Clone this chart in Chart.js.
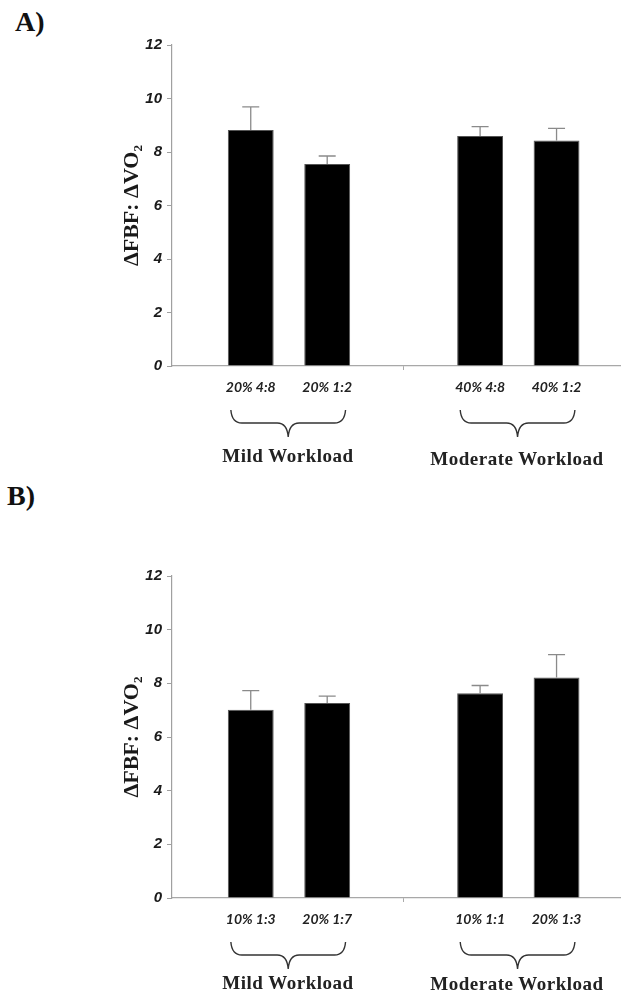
<!DOCTYPE html>
<html>
<head>
<meta charset="utf-8">
<script src="https://cdn.jsdelivr.net/npm/chart.js@4"></script>
<style>
  html, body { margin: 0; padding: 0; background: #fff; }
  body { width: 622px; height: 998px; position: relative; overflow: hidden; }
  canvas { position: absolute; left: 0; }
  .panel { position: absolute; font-family: "Liberation Serif", "Times New Roman", serif; font-weight: bold; font-size: 28px; line-height: 28px; color: #111; }
  .grp { position: absolute; font-family: "Liberation Serif", "Times New Roman", serif; font-weight: bold; font-size: 19px; line-height: 19px; color: #222; white-space: nowrap; transform: translateX(-50%); letter-spacing: 0.5px; }
</style>
</head>
<body>
<div class="panel" style="left:15px; top:8px;">A)</div>
<div class="panel" style="left:7px; top:482px;">B)</div>
<canvas id="cA" width="622" height="480" style="top:0px;"></canvas>
<canvas id="cB" width="622" height="499" style="top:499px;"></canvas>
<div class="grp" style="left:288px; top:446px;">Mild Workload</div>
<div class="grp" style="left:517px; top:449px;">Moderate Workload</div>
<div class="grp" style="left:288px; top:973px;">Mild Workload</div>
<div class="grp" style="left:517px; top:974px;">Moderate Workload</div>
<script>
// ---- Data ----
const groupNames = ['Mild Workload', 'Moderate Workload'];
const barGroup = [0, 0, 1, 1];

const categoriesA = ['20% 4:8', '20% 1:2', '40% 4:8', '40% 1:2'];
const meansA = [8.82, 7.55, 8.60, 8.43];
const errorsA = [0.87, 0.30, 0.35, 0.45];

const categoriesB = ['10% 1:3', '20% 1:7', '10% 1:1', '20% 1:3'];
const meansB = [7.02, 7.27, 7.63, 8.22];
const errorsB = [0.71, 0.25, 0.29, 0.85];

const yTicks = [0, 2, 4, 6, 8, 10, 12];
const yTitle = 'ΔFBF: ΔVO₂';

// slot index along the axis: one empty slot between groups
function slotOf(i) { return i + 1 + barGroup[i]; }

const errorBarPlugin = {
  id: 'errorBars',
  afterDatasetsDraw(chart) {
    const errs = chart.options.plugins.errorBars.errors;
    const ys = chart.scales.y;
    const meta = chart.getDatasetMeta(0);
    const ctx = chart.ctx;
    ctx.save();
    ctx.strokeStyle = '#8a8a8a';
    ctx.lineWidth = 1.3;
    meta.data.forEach((el, i) => {
      const v = chart.data.datasets[0].data[i].y;
      const yTop = ys.getPixelForValue(v + errs[i]);
      const x = el.x;
      ctx.beginPath();
      ctx.moveTo(x, el.y);
      ctx.lineTo(x, yTop);
      ctx.moveTo(x - 8.5, yTop);
      ctx.lineTo(x + 8.5, yTop);
      ctx.stroke();
    });
    ctx.restore();
  }
};

const bracePlugin = {
  id: 'braces',
  afterDraw(chart) {
    const xs = chart.scales.x;
    const axisY = chart.chartArea.bottom;
    const ctx = chart.ctx;
    ctx.save();
    ctx.strokeStyle = '#333';
    ctx.lineWidth = 1.4;
    groupNames.forEach((g, gi) => {
      const idx = barGroup.map((b, i) => b === gi ? i : -1).filter(i => i >= 0);
      const xL = xs.getPixelForValue(slotOf(idx[0]) - 0.26);
      const xR = xs.getPixelForValue(slotOf(idx[idx.length - 1]) + 0.24);
      const xc = (xL + xR) / 2;
      const yTop = axisY + 44, yMid = axisY + 57, yTip = axisY + 71;
      const r = 11;
      ctx.beginPath();
      ctx.moveTo(xL, yTop);
      ctx.quadraticCurveTo(xL + 1, yMid, xL + r, yMid);
      ctx.lineTo(xc - r, yMid);
      ctx.quadraticCurveTo(xc - 1, yMid, xc, yTip);
      ctx.moveTo(xR, yTop);
      ctx.quadraticCurveTo(xR - 1, yMid, xR - r, yMid);
      ctx.lineTo(xc + r, yMid);
      ctx.quadraticCurveTo(xc + 1, yMid, xc, yTip);
      ctx.stroke();
    });
    ctx.restore();
  }
};

function makeChart(id, cats, means, errs, padTop, xHeight) {
  const pts = means.map((m, i) => ({ x: slotOf(i), y: m }));
  return new Chart(document.getElementById(id), {
    type: 'bar',
    data: {
      datasets: [{
        data: pts,
        backgroundColor: '#000',
        borderColor: '#555',
        borderWidth: 1,
        categoryPercentage: 1,
        barPercentage: 0.6
      }]
    },
    options: {
      responsive: false,
      animation: false,
      layout: { padding: { top: padTop, left: 0, right: 2, bottom: 0 } },
      plugins: {
        legend: { display: false },
        tooltip: { enabled: false },
        errorBars: { errors: errs }
      },
      scales: {
        x: {
          type: 'linear',
          offset: false,
          min: -0.03,
          max: 5.83,
          afterBuildTicks(scale) {
            scale.ticks = [1, 2, 3, 4, 5].map(v => ({ value: v }));
          },
          afterFit(scale) { scale.height = xHeight; },
          ticks: {
            autoSkip: false,
            maxRotation: 0,
            padding: 9,
            color: '#222',
            font: { family: 'Lato, "Liberation Sans", sans-serif', size: 14, weight: 'bold', style: 'italic' },
            callback(v) {
              const i = pts.findIndex(p => p.x === v);
              return i >= 0 ? cats[i] : '';
            }
          },
          grid: {
            offset: false,
            drawOnChartArea: false,
            drawTicks: true,
            tickLength: 4,
            color: (c) => (c.tick && c.tick.value === 3) ? '#aaa' : 'rgba(0,0,0,0)'
          },
          border: { display: true, color: '#a8a8a8', width: 1.2 }
        },
        y: {
          min: 0,
          max: 12,
          afterBuildTicks(scale) {
            scale.ticks = yTicks.map(v => ({ value: v }));
          },
          afterFit(scale) { scale.width = 172; },
          ticks: {
            padding: 5,
            color: '#1a1a1a',
            font: { family: '"Liberation Sans", Arial, sans-serif', size: 15, weight: 'bold', style: 'italic' }
          },
          grid: {
            drawOnChartArea: false,
            drawTicks: true,
            tickLength: 5,
            color: '#a0a0a0'
          },
          border: { display: true, color: '#a0a0a0', width: 1.2 },
          title: {
            display: true,
            text: yTitle,
            color: '#1a1a1a',
            font: { family: '"Liberation Serif", "Times New Roman", serif', size: 22, weight: 'bold' },
            padding: { top: 119, bottom: 0 }
          }
        }
      }
    },
    plugins: [errorBarPlugin, bracePlugin]
  });
}

makeChart('cA', categoriesA, meansA, errorsA, 45, 114);
makeChart('cB', categoriesB, meansB, errorsB, 77, 100);
</script>
</body>
</html>
